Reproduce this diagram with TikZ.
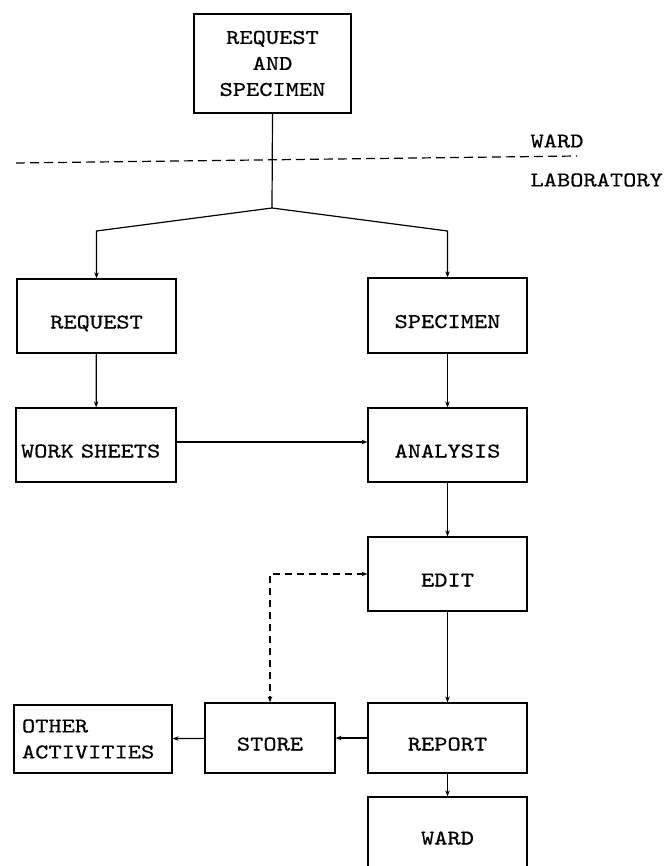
\documentclass[tikz,border=0pt]{standalone}
\usepackage{fontspec}
\setmonofont{lmmono10-regular.otf}[FakeStretch=1.2,FakeBold=0.6]
\usetikzlibrary{arrows.meta}
\begin{document}
\begin{tikzpicture}[x=1pt,y=-1pt,
  lbl/.style={font=\ttfamily\fontsize{21}{26}\selectfont},
  box/.style={draw, line width=1.2pt, inner sep=0pt, lbl, align=center},
  low/.style={text height=25pt, text depth=0pt},
  wire/.style={line width=1.2pt},
  link/.style={line width=1.2pt, -{Stealth[length=6pt,width=4.5pt]}},
  dlink/.style={line width=1.2pt, dash pattern=on 7pt off 5pt,
    {Stealth[length=6pt,width=4.5pt]}-{Stealth[length=6pt,width=4.5pt]}}]
\useasboundingbox (0,0) rectangle (667,866);

% ward / laboratory boundary
\coordinate (bl) at (16,163);
\coordinate (br) at (577,156);
\draw[wire, dash pattern=on 9pt off 5pt] (bl) -- (br);
\node[lbl, anchor=west] (wardlbl) at (527,141) {WARD};
\node[lbl, anchor=west] (lablbl) at (527,180) {LABORATORY};

% boxes
\node[box, minimum width=157pt, minimum height=99pt] (top) at (272.5,63.5) {REQUEST\\AND\\SPECIMEN};
\node[box, low, minimum width=159pt, minimum height=74pt] (req) at (96.5,316) {REQUEST};
\node[box, low, minimum width=159pt, minimum height=75pt] (spec) at (447.5,315.5) {SPECIMEN};
\node[box, low, minimum width=160pt, minimum height=74pt, text width=150pt, align=left] (ws) at (96,445) {WORK SHEETS};
\node[box, low, minimum width=159pt, minimum height=74pt] (ana) at (447.5,445) {ANALYSIS};
\node[box, low, minimum width=159pt, minimum height=74pt] (edit) at (447.5,574) {EDIT};
\node[box, low, minimum width=159pt, minimum height=70pt] (report) at (447.5,738) {REPORT};
\node[box, low, minimum width=130pt, minimum height=70pt] (store) at (270,738) {STORE};
\node[box, minimum width=158pt, minimum height=68pt, text width=142pt, align=left] (other) at (93,739) {OTHER\\ACTIVITIES};
\node[box, low, minimum width=159pt, minimum height=70pt] (ward) at (447.5,832) {WARD};

% connectors
\coordinate (apex) at (272,208);
\coordinate (lb) at (96.5,231);
\coordinate (rb) at (447.5,231);
\draw[wire] (top.south) -- (apex);
\draw[link] (apex) -- (lb) -- (req.north);
\draw[link] (apex) -- (rb) -- (spec.north);
\draw[link] (req) -- (ws);
\draw[link] (spec) -- (ana);
\draw[link] ([yshift=3pt]ws.east) -- ([yshift=3pt]ana.west);
\draw[link] (ana) -- (edit);
\draw[link] (edit) -- (report);
\draw[link] (report) -- (store);
\draw[link] (store) -- (other);
\draw[link] (report) -- (ward);
\draw[dlink] (edit.west) -- (store.north |- edit.west) -- (store.north);
\end{tikzpicture}
\end{document}
